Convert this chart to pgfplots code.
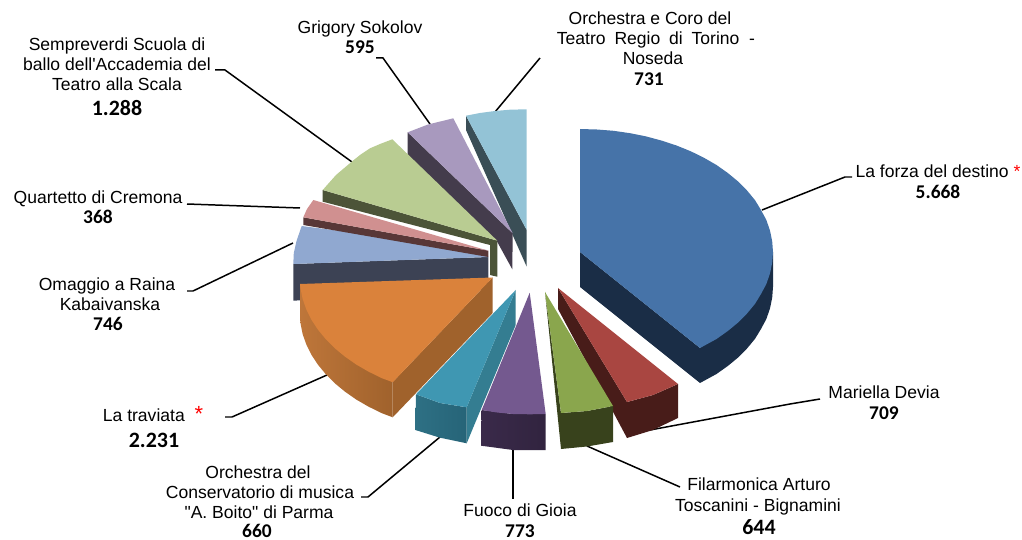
\documentclass[border=0pt]{standalone}
\usepackage{pgfplots}
\pgfplotsset{compat=1.18}
\usepackage{fontspec}
\setmainfont{Liberation Sans}[Ligatures=TeXOff]
\newfontfamily\calfont{Carlito}
\definecolor{blueT}{RGB}{70,115,168}\definecolor{blueD}{RGB}{26,45,70}
\definecolor{redT}{RGB}{169,70,65}\definecolor{redD}{RGB}{72,28,25}
\definecolor{grnT}{RGB}{138,166,77}\definecolor{grnD}{RGB}{56,66,28}
\definecolor{purT}{RGB}{116,89,143}\definecolor{purD}{RGB}{58,42,74}
\definecolor{teaT}{RGB}{63,151,178}\definecolor{teaS}{RGB}{52,125,145}\definecolor{teaD}{RGB}{38,100,120}\definecolor{teaL}{RGB}{46,112,132}
\definecolor{oraT}{RGB}{218,130,59}\definecolor{oraS}{RGB}{160,98,44}\definecolor{oraL}{RGB}{190,118,58}
\definecolor{gryT}{RGB}{144,168,208}\definecolor{gryD}{RGB}{60,66,84}
\definecolor{pnkT}{RGB}{208,144,144}\definecolor{pnkD}{RGB}{88,55,55}
\definecolor{lgnT}{RGB}{185,204,146}\definecolor{lgnD}{RGB}{76,84,56}
\definecolor{lavT}{RGB}{168,153,190}\definecolor{lavD}{RGB}{68,60,76}
\definecolor{lblT}{RGB}{147,195,214}\definecolor{lblD}{RGB}{58,78,86}
\newcommand{\poly}[2]{\addplot[fill=#1,draw=none] coordinates {#2} --cycle;}
\newcommand{\lead}[1]{\addplot[black,line width=1.5pt] coordinates {#1};}
\newcommand{\lab}[3]{\node[anchor=base,inner sep=0pt,font=\fontsize{17.6}{20}\selectfont] at (axis cs:#1,#2) {#3};}
\newcommand{\val}[3]{\node[anchor=base,inner sep=0pt,font=\calfont\bfseries\fontsize{19.5}{22}\selectfont] at (axis cs:#1,#2) {#3};}
\newcommand{\valb}[3]{\node[anchor=base,inner sep=0pt,font=\calfont\bfseries\fontsize{22}{24}\selectfont] at (axis cs:#1,#2) {#3};}
\begin{document}
\begin{tikzpicture}
\begin{axis}[at={(0,0)},anchor=south west,scale only axis,width=1022bp,height=540bp,
 xmin=0,xmax=1022,ymin=0,ymax=540,y dir=reverse,axis lines=none,clip=false]
\path (axis cs:0,0) rectangle (axis cs:1022,540);
% leaders
\lead{(762,210)(845,177)(852,177)}
\lead{(650,430)(790,404)(820,399)}
\lead{(587,446)(680,487)}
\lead{(513,450)(513,499)}
\lead{(440,437)(368,497)(361,497)}
\lead{(327,375)(232,417)(225,417)}
\lead{(293,243)(193,291)(187,291)}
\lead{(300,208)(187,204)}
\lead{(352,162)(225,70)(215,70)}
\lead{(430,124)(383,58)(376,58)}
\lead{(495,112)(540,58)}
% light blue
\poly{lblD}{(466,115.7)(466,130)(526.7,266.7)(526.7,230)}
\poly{lblT}{(466,115.7)(480,113)(495,111)(510,109.7)(526.7,109.3)(526.7,230)}
% lavender
\poly{lavD}{(407.7,132.3)(407.7,155)(497.3,242)(512.3,269.3)(512.7,233.3)}
\poly{lavT}{(407.7,132.3)(428,124.5)(453.3,118.3)(512.7,233.3)}
% light green
\poly{lgnD}{(322.7,190)(322.7,201.7)(490,245)(490,275)(497.3,276.7)(497.3,240.7)}
\poly{lgnT}{(392.3,139.3)(380,144)(370,148.3)(360,155)(351.7,161.7)(336,175)(322.7,190)(497.3,240.7)}
% grey blue
\poly{gryD}{(293.3,264)(488.3,257)(488.3,290)(293.3,300.7)}
\poly{gryT}{(301.7,226)(296.5,241)(293.8,253)(293.3,264)(488.3,257)(486.7,250)}
% pink
\poly{pnkD}{(303.3,217.3)(488.3,250.7)(488.3,257)(303.3,225)}
\poly{pnkT}{(313.3,200)(307,209)(303.3,217.3)(488.3,250.7)}
% orange
\poly{oraS}{(492.7,277.5)(392.7,382)(392.7,417.3)(492.7,313)}
\addplot[left color=oraL,right color=oraS,draw=none] coordinates {(300,284)(300,319)(300.5,323.2)(302.6,334)(306.3,344.4)(311.3,354.6)(317.8,364.5)(325.6,374)(334.6,383.1)(344.9,391.6)(356.2,399.5)(368.6,406.7)(381.9,413.2)(392.7,417.3)(392.7,382)} --cycle;
\poly{oraT}{(300,284)(300.5,288.2)(302.6,298.9)(306.3,309.4)(311.3,319.6)(317.8,329.5)(325.6,339)(334.6,348.1)(344.9,356.6)(356.2,364.5)(368.6,371.7)(381.9,378.2)(392.7,382.2)(492.7,277.5)}
% teal
\poly{teaS}{(515.7,290)(515.7,325)(466.7,443.3)(466.7,407.3)}
\addplot[left color=teaL,right color=teaD,draw=none] coordinates {(416,394.3)(415.3,430)(440,437.7)(466.7,443.3)(466.7,407.3)(440,403)} --cycle;
\poly{teaT}{(515.7,290)(416,394.3)(440,403)(466.7,407.3)}
% purple
\addplot[left color=purD,right color=purD!85!black,draw=none] coordinates {(481.7,410)(481,445.7)(513,450)(545.7,450)(545.7,414)(513,414)} --cycle;
\poly{purT}{(529.7,292.7)(481.7,410)(497,412.5)(513,414)(530,414.3)(545.7,414)}
% red
\poly{redD}{(558,288)(558,309)(627,438)(653,430)(678,418)(678,384)(653,395)(627,402)}
\poly{redT}{(558,288)(627,402)(653,395)(678,384)}
% green
\poly{grnD}{(545,292)(561,449)(587,446.5)(613,442)(613,406)(587,411)(561,413)}
\poly{grnT}{(545,292)(561,413)(587,411)(613,406)}
% blue
\poly{blueD}{(580,252)(580,287)(700,383)(716.5,374)(727.8,366)(738,357.6)(747,348.5)(754.9,339)(761,329)(766.4,318.9)(770,308.4)(772.2,297.7)(773,287)(773,252)(700,348)}
\poly{blueT}{(580,129)(596.8,129.5)(613.6,130.8)(630,133.2)(646,136.4)(661.6,140.6)(676.5,145.5)(690.8,151.3)(704,157.8)(716.5,165)(727.8,173)(738,181.4)(747,190.5)(754.9,200)(761,210)(766.4,220.1)(770,230.6)(772.2,241.3)(773,252)(772.2,262.7)(770,273.4)(766.4,283.9)(761,294)(754.9,304)(747,313.5)(738,322.6)(727.8,331)(716.5,339)(700,348)(580,252)}
% labels
\lab{938}{178}{La forza del destino \textcolor{red}{*}}
\val{938}{199}{5.668}
\lab{884}{398}{Mariella Devia}
\val{884}{419}{709}
\lab{759}{490}{Filarmonica Arturo}
\lab{758}{511}{Toscanini - Bignamini}
\valb{759}{534}{644}
\lab{520}{516}{Fuoco di Gioia}
\val{520}{537}{773}
\lab{258}{478}{Orchestra del}
\lab{260}{498}{Conservatorio di musica}
\lab{259}{518}{"A. Boito" di Parma}
\val{257}{537}{660}
\lab{153}{421}{La traviata\ \ \textcolor{red}{\fontsize{22}{22}\selectfont *}}
\valb{154}{447}{2.231}
\lab{107}{291}{Omaggio a Raina}
\lab{110}{311}{Kabaivanska}
\val{108}{331}{746}
\lab{98}{204}{Quartetto di Cremona}
\val{98}{224}{368}
\lab{117}{51}{Sempreverdi Scuola di}
\lab{117}{71}{ballo dell'Accademia del}
\lab{117}{91}{Teatro alla Scala}
\valb{117}{116}{1.288}
\lab{360}{34}{Grigory Sokolov}
\val{360}{54}{595}
\lab{650}{25}{Orchestra e Coro del}
\lab{656}{45}{Teatro\hspace{4pt} Regio\hspace{4pt} di\hspace{4pt} Torino \ -}
\lab{653}{65}{Noseda}
\val{649}{86}{731}
\end{axis}
\end{tikzpicture}
\end{document}
